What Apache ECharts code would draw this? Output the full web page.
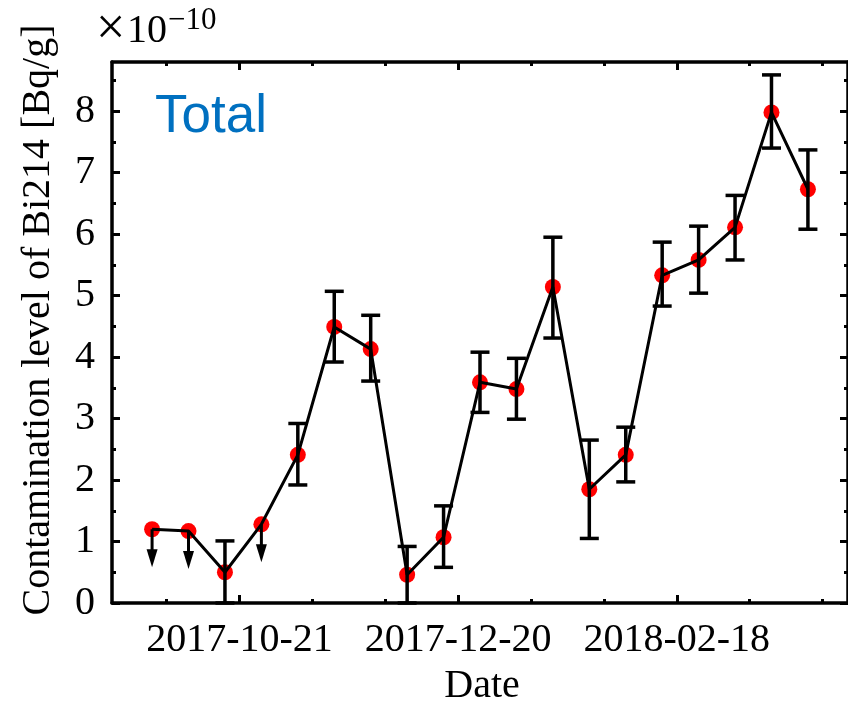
<!DOCTYPE html>
<html>
<head>
<meta charset="utf-8">
<script src="https://cdn.jsdelivr.net/npm/echarts@6/dist/echarts.min.js"></script>
<style>
  html, body { margin: 0; padding: 0; background: #fff; }
  #chart { width: 848px; height: 704px; }
</style>
</head>
<body>
<div id="chart"></div>
<script>
// Measurement dates (one run every ten days)
const dates = [
  '2017-09-27', '2017-10-07', '2017-10-17', '2017-10-27', '2017-11-06',
  '2017-11-16', '2017-11-26', '2017-12-06', '2017-12-16', '2017-12-26',
  '2018-01-05', '2018-01-15', '2018-01-25', '2018-02-04', '2018-02-14',
  '2018-02-24', '2018-03-06', '2018-03-16', '2018-03-26'
];
// Bi214 contamination level, in units of 1e-10 Bq/g
const values = [1.20, 1.17, 0.50, 1.28, 2.41, 4.49, 4.13, 0.46, 1.07, 3.59,
                3.48, 5.14, 1.85, 2.41, 5.33, 5.58, 6.11, 7.98, 6.73];
// Error bar ends (null where only an upper limit is quoted)
const errLow  = [null, null, 0.00, null, 1.92, 3.92, 3.61, 0.00, 0.58, 3.10,
                 2.99, 4.31, 1.05, 1.97, 4.83, 5.04, 5.58, 7.40, 6.08];
const errHigh = [null, null, 1.01, null, 2.92, 5.07, 4.68, 0.92, 1.58, 4.08,
                 3.98, 5.95, 2.65, 2.86, 5.87, 6.13, 6.63, 8.59, 7.37];
// Points that are upper limits (drawn with a downward arrow)
const upperLimit = [true, true, false, true, false, false, false, false, false, false,
                    false, false, false, false, false, false, false, false, false];

// Axis ticks
const xTickLabels = ['2017-10-21', '2017-12-20', '2018-02-18'];
const yTickLabels = [0, 1, 2, 3, 4, 5, 6, 7, 8];
const xRange = ['2017-09-16', '2018-04-06'];
const yMax = 8.8;

const DAY = 86400000;
const base = Date.UTC(2017, 9, 21);
const toDay = s => (Date.parse(s + 'T00:00:00Z') - base) / DAY;
const toDate = d => new Date(base + Math.round(d) * DAY).toISOString().slice(0, 10);

const xs = dates.map(toDay);
const xMajor = xTickLabels.map(toDay);
const xMinor = [];
for (let d = xMajor[0] - 40; d <= toDay(xRange[1]); d += 20) {
  if (d >= toDay(xRange[0]) && !xMajor.includes(d)) xMinor.push(d);
}
const yMinor = yTickLabels.map(v => v + 0.5).filter(v => v < yMax);

const pointData = xs.map((x, i) => [x, values[i]]);
const errData = xs.map((x, i) => [x, errLow[i], errHigh[i]]).filter(d => d[1] !== null);
const limitData = xs.map((x, i) => [x, values[i]]).filter((d, i) => upperLimit[i]);

const SERIF = 'Liberation Serif';
const INK = '#000';
const AXIS_W = 3.5;

function xAxisDef(position, ticks, len, withLabels) {
  return {
    type: 'value', position, min: toDay(xRange[0]), max: toDay(xRange[1]),
    axisLine: { show: withLabels !== null, onZero: false, lineStyle: { color: INK, width: AXIS_W } },
    axisTick: { show: true, inside: true, length: len, customValues: ticks,
                lineStyle: { color: INK, width: 3 } },
    axisLabel: withLabels ? {
      show: true, customValues: ticks, margin: 17, color: INK,
      fontFamily: SERIF, fontSize: 40, formatter: v => toDate(v)
    } : { show: false },
    splitLine: { show: false }
  };
}
function yAxisDef(position, ticks, len, withLabels) {
  return {
    type: 'value', position, min: 0, max: yMax,
    axisLine: { show: withLabels !== null, onZero: false, lineStyle: { color: INK, width: AXIS_W } },
    axisTick: { show: true, inside: true, length: len, customValues: ticks,
                lineStyle: { color: INK, width: 3 } },
    axisLabel: withLabels ? {
      show: true, customValues: ticks, margin: 17, color: INK,
      fontFamily: SERIF, fontSize: 40
    } : { show: false },
    splitLine: { show: false }
  };
}

const chart = echarts.init(document.getElementById('chart'), null, { renderer: 'canvas' });

chart.setOption({
  backgroundColor: '#fff',
  animation: false,
  grid: { left: 112, top: 62, width: 740, height: 541, containLabel: false },
  xAxis: [
    xAxisDef('bottom', xMajor, 8, true),
    xAxisDef('bottom', xMinor, 4, null),
    xAxisDef('top', xMajor, 8, false),
    xAxisDef('top', xMinor, 4, null)
  ],
  yAxis: [
    yAxisDef('left', yTickLabels, 8, true),
    yAxisDef('left', yMinor, 4, null),
    yAxisDef('right', yTickLabels, 8, false),
    yAxisDef('right', yMinor, 4, null)
  ],
  graphic: [
    // scale factor ×10^−10 above the value axis
    { type: 'text', x: 96, y: 30,
      style: { text: '\u00d7', fontFamily: SERIF, fontSize: 52, fill: INK,
               textAlign: 'left', textVerticalAlign: 'middle' } },
    { type: 'text', x: 127, y: 31,
      style: { text: '10', fontFamily: SERIF, fontSize: 40, fill: INK,
               textAlign: 'left', textVerticalAlign: 'middle' } },
    { type: 'text', x: 168, y: 21,
      style: { text: '\u221210', fontFamily: SERIF, fontSize: 31, fill: INK,
               textAlign: 'left', textVerticalAlign: 'middle' } },
    { type: 'text', x: 155, y: 117,
      style: { text: 'Total', fontFamily: 'Liberation Sans', fontSize: 53, fill: '#0070C0',
               textAlign: 'left', textVerticalAlign: 'middle' } },
    { type: 'text', x: 38, y: 320, rotation: Math.PI / 2,
      style: { text: 'Contamination level of Bi214 [Bq/g]', fontFamily: SERIF, fontSize: 40,
               fill: INK, textAlign: 'center', textVerticalAlign: 'middle' } },
    { type: 'text', x: 482, y: 686,
      style: { text: 'Date', fontFamily: SERIF, fontSize: 40, fill: INK,
               textAlign: 'center', textVerticalAlign: 'middle' } }
  ],
  series: [
    {
      type: 'scatter', data: pointData, symbol: 'circle', symbolSize: 16,
      itemStyle: { color: '#ff0000', opacity: 1 }, z: 1, clip: false
    },
    {
      type: 'line', data: pointData, showSymbol: false, symbol: 'none',
      lineStyle: { color: INK, width: 3 }, z: 2
    },
    {
      type: 'custom', data: errData, z: 3, clip: false,
      renderItem: (params, api) => {
        const lo = api.coord([api.value(0), api.value(1)]);
        const hi = api.coord([api.value(0), api.value(2)]);
        const w = 9.5;
        const st = { stroke: INK, lineWidth: 3.5 };
        return {
          type: 'group',
          children: [
            { type: 'line', shape: { x1: lo[0], y1: lo[1], x2: hi[0], y2: hi[1] }, style: st },
            { type: 'line', shape: { x1: lo[0] - w, y1: lo[1], x2: lo[0] + w, y2: lo[1] }, style: st },
            { type: 'line', shape: { x1: hi[0] - w, y1: hi[1], x2: hi[0] + w, y2: hi[1] }, style: st }
          ]
        };
      }
    },
    {
      type: 'custom', data: limitData, z: 3, clip: false,
      renderItem: (params, api) => {
        const p = api.coord([api.value(0), api.value(1)]);
        return {
          type: 'group',
          children: [
            { type: 'line', shape: { x1: p[0], y1: p[1], x2: p[0], y2: p[1] + 24 },
              style: { stroke: INK, lineWidth: 3 } },
            { type: 'polygon',
              shape: { points: [[p[0] - 5.5, p[1] + 20], [p[0] + 5.5, p[1] + 20], [p[0], p[1] + 38]] },
              style: { fill: INK } }
          ]
        };
      }
    }
  ]
});
</script>
</body>
</html>
